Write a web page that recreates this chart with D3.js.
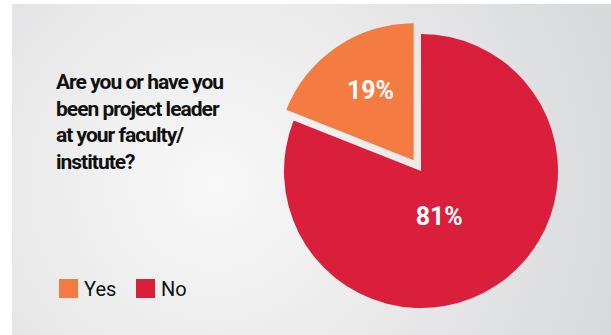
<!DOCTYPE html>
<html>
<head>
<meta charset="utf-8">
<script src="https://cdn.jsdelivr.net/npm/d3@7/dist/d3.min.js"></script>
<style>
  html, body { margin: 0; padding: 0; background: #ffffff; }
  svg { display: block; }
</style>
</head>
<body>
<svg id="chart" width="611" height="335"></svg>
<script>
// Survey answers and their shares (%)
const categories = ["Yes", "No"];
const values = [19, 81];
const colors = ["#F47B42", "#DA1F3D"];
const titleLines = ["Are you or have you", "been project leader", "at your faculty/", "institute?"];

const W = 611, H = 335;
const svg = d3.select("#chart");

// Panel background with soft radial light
const defs = svg.append("defs");
const grad = defs.append("radialGradient")
  .attr("id", "bg")
  .attr("gradientUnits", "userSpaceOnUse")
  .attr("cx", 215).attr("cy", 185).attr("r", 420);
grad.append("stop").attr("offset", "0%").attr("stop-color", "#f8f8f8");
grad.append("stop").attr("offset", "45%").attr("stop-color", "#ebebec");
grad.append("stop").attr("offset", "100%").attr("stop-color", "#d8d9db");

svg.append("rect")
  .attr("x", 12).attr("y", 4)
  .attr("width", W - 12).attr("height", H - 4)
  .attr("fill", "url(#bg)");

// Title
const title = svg.append("text")
  .attr("x", 56).attr("y", 89)
  .attr("font-family", "Roboto, sans-serif")
  .attr("font-weight", 700)
  .attr("font-size", 21)
  .attr("letter-spacing", -1)
  .attr("fill", "#111111");
titleLines.forEach((line, i) => {
  title.append("tspan").attr("x", 56).attr("y", 89 + i * 26.5).text(line);
});

// Pie
const cx = 421, cy = 171, R = 137, explode = 13;
const total = d3.sum(values);
const pie = d3.pie()
  .sort(null)
  .value(d => d.value)
  .startAngle(-2 * Math.PI * values[0] / total)
  .endAngle(2 * Math.PI - 2 * Math.PI * values[0] / total);
const data = categories.map((c, i) => ({ cat: c, value: values[i], color: colors[i] }));
const arcs = pie(data);
const arc = d3.arc().innerRadius(0).outerRadius(R);
const labelArc = d3.arc().innerRadius(0).outerRadius(R * 1.2);

const g = svg.append("g").attr("transform", `translate(${cx},${cy})`);

const slices = g.selectAll("g.slice")
  .data(arcs)
  .join("g")
  .attr("class", "slice")
  .attr("transform", d => {
    if (d.index !== 0) return null;
    const mid = (d.startAngle + d.endAngle) / 2;
    return `translate(${Math.sin(mid) * explode},${-Math.cos(mid) * explode})`;
  });

slices.append("path")
  .attr("d", arc)
  .attr("fill", d => d.data.color);

// Value labels
const labelNudge = [[3, -2], [-28, -23]];
slices.append("text")
  .attr("transform", d => {
    const [x, y] = labelArc.centroid(d);
    const n = labelNudge[d.index];
    return `translate(${x + n[0]},${y + n[1]})`;
  })
  .attr("text-anchor", "middle")
  .attr("dy", "0.35em")
  .attr("font-family", "Roboto, sans-serif")
  .attr("font-weight", 700)
  .attr("font-size", 25)
  .attr("fill", "#ffffff")
  .text(d => d.data.value + "%");

// Legend
const legend = svg.append("g").attr("transform", "translate(59,279)");
const xs = [0, 77];
const items = legend.selectAll("g")
  .data(data)
  .join("g")
  .attr("transform", (d, i) => `translate(${xs[i]},0)`);
items.append("rect")
  .attr("width", 19).attr("height", 19)
  .attr("fill", d => d.color);
items.append("text")
  .attr("x", 25).attr("y", 16.5)
  .attr("font-family", "Roboto, sans-serif")
  .attr("font-size", 20)
  .attr("fill", "#111111")
  .text(d => d.cat);
</script>
</body>
</html>
